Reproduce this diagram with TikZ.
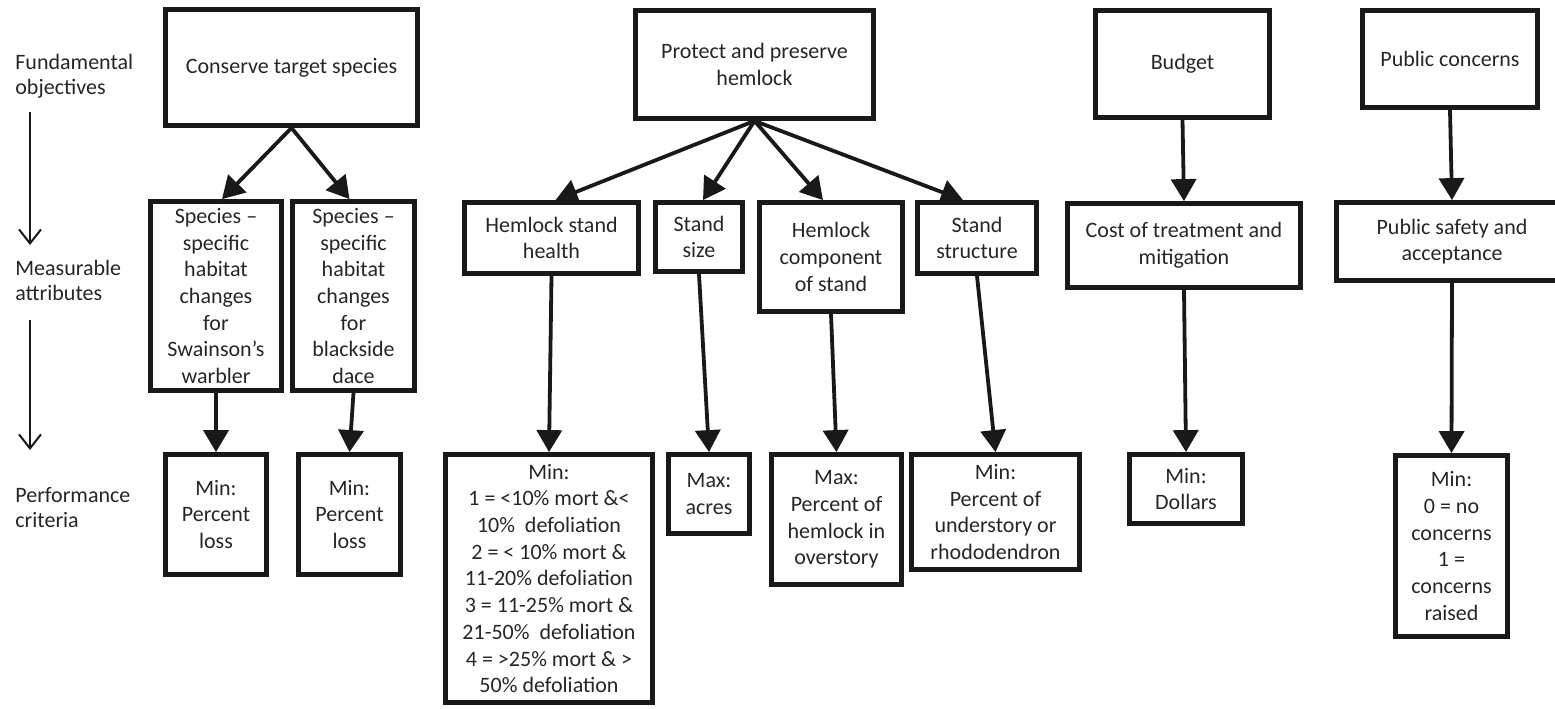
\documentclass[tikz,border=0pt]{standalone}
\usepackage{fontspec}
\setmainfont{Carlito}
\usetikzlibrary{arrows.meta}
\begin{document}
\begin{tikzpicture}[x=0.5pt,y=-0.5pt,
  box/.style={draw=black!90, line width=2.4pt, inner sep=0pt, align=center,
    text=black!85, font=\fontsize{11pt}{13.35pt}\selectfont},
  conn/.style={draw=black!90, line width=1.9pt, -{Triangle[length=11pt,width=12.5pt]}},
  level/.style={align=left, anchor=west, text=black!85, inner sep=0pt,
    font=\fontsize{11pt}{12.5pt}\selectfont},
  axis/.style={draw=black!90, line width=1pt, -{Straight Barb[length=7pt,width=11pt]}}]
\useasboundingbox (0,0) rectangle (1555,708);

% level labels on the left
\node[level] (lvlf) at (15,76.5) {Fundamental\\objectives};
\node[level] (lvlm) at (15,280.5) {Measurable\\attributes};
\node[level] (lvlp) at (15,507.5) {Performance\\criteria};
\coordinate (ax1s) at (30,112);
\coordinate (ax1e) at (30,245);
\coordinate (ax2s) at (30,320);
\coordinate (ax2e) at (30,450);
\draw[axis] (ax1s) -- (ax1e);
\draw[axis] (ax2s) -- (ax2e);

% fundamental objectives
\node[box, minimum width=126pt, minimum height=58pt] (cons) at (291.5,67.5) {Conserve target species};
\node[box, minimum width=119pt, minimum height=54pt] (prot) at (754.5,64.5) {Protect and preserve\\hemlock};
\node[box, minimum width=87pt, minimum height=53.5pt] (budg) at (1182.5,64) {Budget};
\node[box, minimum width=87.5pt, minimum height=48.5pt] (pubc) at (1450,59) {Public concerns};

% measurable attributes
\node[box, minimum width=65.5pt, minimum height=94.5pt] (swa) at (216,296) {Species –\\specific\\habitat\\changes\\for\\Swainson’s\\warbler};
\node[box, minimum width=61pt, minimum height=94.5pt] (bla) at (353.5,296) {Species –\\specific\\habitat\\changes\\for\\blackside\\dace};
\node[box, minimum width=87pt, minimum height=35.5pt] (hsh) at (551.5,238) {Hemlock stand\\health};
\node[box, minimum width=43.5pt, minimum height=34.5pt] (ssz) at (699,237) {Stand\\size};
\node[box, minimum width=71.5pt, minimum height=54.5pt] (hcs) at (831,257) {Hemlock\\component\\of stand};
\node[box, minimum width=59.5pt, minimum height=35.5pt] (sst) at (977,238) {Stand\\structure};
\node[box, minimum width=116.5pt, minimum height=42pt] (cost) at (1184,245.5) {Cost of treatment and\\mitigation};
\node[box, minimum width=115.5pt, minimum height=39pt] (pubs) at (1452,241.5) {Public safety and\\acceptance};

% performance criteria
\node[box, minimum width=50.5pt, minimum height=60pt] (loss1) at (216,514.5) {Min:\\Percent\\loss};
\node[box, minimum width=51pt, minimum height=60pt] (loss2) at (349.5,514.5) {Min:\\Percent\\loss};
\node[box, minimum width=103.5pt, minimum height=124pt] (hmin) at (549,578.5)
  {Min:\\1 = <10\% mort \&<\\10\%\ \ defoliation\\2 = < 10\% mort \&\\11-20\% defoliation\\3 = 11-25\% mort \&\\21-50\%\ \ defoliation\\4 = >25\% mort \& >\\50\% defoliation};
\node[box, minimum width=40.5pt, minimum height=39.5pt] (acres) at (709,494) {Max:\\acres};
\node[box, minimum width=65pt, minimum height=65pt] (pct) at (836.5,519.5) {Max:\\Percent of\\hemlock in\\overstory};
\node[box, minimum width=84pt, minimum height=57.5pt] (und) at (995.5,512) {Min:\\Percent of\\understory or\\rhododendron};
\node[box, minimum width=56.5pt, minimum height=34.5pt] (dol) at (1186,489) {Min:\\Dollars};
\node[box, minimum width=56pt, minimum height=90.5pt] (pmin) at (1451.5,546) {Min:\\0 = no\\concerns\\1 =\\concerns\\raised};

% objectives to attributes
\draw[conn] (cons.south) -- ([xshift=3pt]swa.north);
\draw[conn] (cons.south) -- ([xshift=-2pt]bla.north);
\draw[conn] (prot.south) -- ([xshift=2pt]hsh.north);
\draw[conn] (prot.south) -- ([xshift=2pt]ssz.north);
\draw[conn] (prot.south) -- ([xshift=-4pt]hcs.north);
\draw[conn] (prot.south) -- ([xshift=-7pt]sst.north);
\draw[conn] (budg.south) -- (cost.north);
\draw[conn] (pubc.south) -- (pubs.north);

% attributes to criteria
\draw[conn] (swa.south) -- (loss1.north);
\draw[conn] (bla.south) -- (loss2.north);
\draw[conn] (hsh.south) -- (hmin.north);
\draw[conn] (ssz.south) -- (acres.north);
\draw[conn] (hcs.south) -- (pct.north);
\draw[conn] (sst.south) -- (und.north);
\draw[conn] (cost.south) -- (dol.north);
\draw[conn] (pubs.south) -- (pmin.north);
\end{tikzpicture}
\end{document}
